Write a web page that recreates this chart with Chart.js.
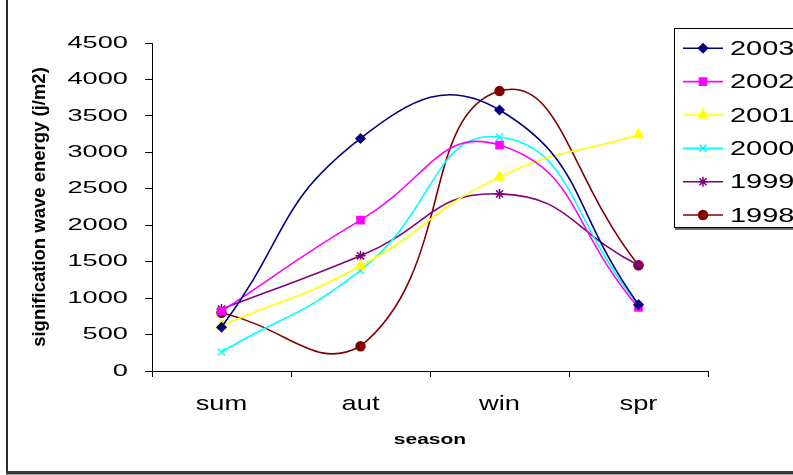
<!DOCTYPE html>
<html>
<head>
<meta charset="utf-8">
<title>Signification wave energy by season</title>
<script src="https://cdn.jsdelivr.net/npm/chart.js@4/dist/chart.umd.min.js"></script>
<style>
  html, body { margin: 0; padding: 0; background: #fff; }
  canvas { display: block; }
</style>
</head>
<body>
<canvas id="chart" width="793" height="475"></canvas>
<script>
// Seasons on the category axis
const seasons = ['sum', 'aut', 'win', 'spr'];

// Value-axis ticks (j/m2)
const yTickValues = [0, 500, 1000, 1500, 2000, 2500, 3000, 3500, 4000, 4500];

// Yearly series, one value per season
const seriesNames = ['2003', '2002', '2001', '2000', '1999', '1998'];
const energy2003 = [600, 3190, 3580, 910];
const energy2002 = [820, 2070, 3100, 870];
const energy2001 = [620, 1440, 2660, 3240];
const energy2000 = [260, 1380, 3210, 910];
const energy1999 = [850, 1580, 2430, 1450];
const energy1998 = [800, 340, 3840, 1450];

const seriesValues = [energy2003, energy2002, energy2001, energy2000, energy1999, energy1998];
const seriesColors = ['#000080', '#FF00FF', '#FFFF00', '#00FFFF', '#800080', '#800000'];
const seriesMarkers = ['rectRot', 'rect', 'triangle', 'crossRot', 'star', 'circle'];
const seriesMarkerSize = [4.5, 5, 5.5, 5, 5, 4.5];

const FONT = '"Liberation Sans", Arial, Helvetica, sans-serif';
Chart.defaults.font.family = FONT;
Chart.defaults.color = '#000';

// Horizontal widening of axis text (labels are drawn wide, like the old office chart look)
const TEXT_WIDEN = {
  x: { ticks: 1.3, title: 1.4 },
  y: { ticks: 1.6, title: 1 }
};

const nativeFillText = CanvasRenderingContext2D.prototype.fillText;
function withWideText(ctx, sx, draw) {
  if (sx === 1) { draw(); return; }
  ctx.fillText = function (text, x, y) {
    this.save();
    this.translate(x, y);
    this.scale(sx, 1);
    nativeFillText.call(this, text, 0, 0);
    this.restore();
  };
  try { draw(); } finally { delete ctx.fillText; }
}

const BaseCategory = Chart.registry.getScale('category');
const BaseLinear = Chart.registry.getScale('linear');

class WideCategoryScale extends BaseCategory {
  drawLabels(area) {
    const w = (TEXT_WIDEN[this.id] || {}).ticks || 1;
    withWideText(this.ctx, w, () => super.drawLabels(area));
  }
  drawTitle() {
    const w = (TEXT_WIDEN[this.id] || {}).title || 1;
    withWideText(this.ctx, w, () => super.drawTitle());
  }
}
WideCategoryScale.id = 'wideCategory';
WideCategoryScale.defaults = BaseCategory.defaults;

class WideLinearScale extends BaseLinear {
  drawLabels(area) {
    const w = (TEXT_WIDEN[this.id] || {}).ticks || 1;
    withWideText(this.ctx, w, () => super.drawLabels(area));
  }
  drawTitle() {
    const w = (TEXT_WIDEN[this.id] || {}).title || 1;
    withWideText(this.ctx, w, () => super.drawTitle());
  }
}
WideLinearScale.id = 'wideLinear';
WideLinearScale.defaults = BaseLinear.defaults;

Chart.register(WideCategoryScale, WideLinearScale);

// Outer frame of the chart object (left edge and bottom edge with a dark rule)
const outerFrame = {
  id: 'outerFrame',
  afterDraw(chart) {
    const ctx = chart.ctx;
    ctx.save();
    ctx.fillStyle = '#2b2b2b';
    ctx.fillRect(6, 0, 2, 472);
    ctx.fillStyle = '#3a3a3a';
    ctx.fillRect(6, 471, chart.width - 6, 3);
    ctx.fillStyle = '#9a9a9a';
    ctx.fillRect(6, 474, chart.width - 6, 1);
    ctx.restore();
  }
};

// Boxed legend at the upper right
const boxLegend = {
  id: 'boxLegend',
  afterDraw(chart) {
    const ctx = chart.ctx;
    ctx.save();
    ctx.fillStyle = '#fff';
    ctx.fillRect(675, 29, 130, 199);
    ctx.strokeStyle = '#000';
    ctx.lineWidth = 1;
    ctx.strokeRect(674.5, 28.5, 140, 199);
    ctx.fillStyle = '#707070';
    ctx.fillRect(675, 228, 130, 2);

    chart.data.datasets.forEach((ds, i) => {
      const y = 48.3 + i * 33.35;
      ctx.strokeStyle = ds.borderColor;
      ctx.lineWidth = ds.borderWidth;
      ctx.beginPath();
      ctx.moveTo(683, y);
      ctx.lineTo(723, y);
      ctx.stroke();

      ctx.fillStyle = ds.pointBackgroundColor;
      ctx.strokeStyle = ds.pointBorderColor;
      ctx.lineWidth = ds.pointBorderWidth;
      Chart.helpers.drawPoint(ctx, {
        pointStyle: ds.pointStyle,
        radius: ds.pointRadius,
        rotation: 0,
        borderWidth: ds.pointBorderWidth
      }, 703, y);

      ctx.fillStyle = '#000';
      ctx.font = '21px ' + FONT;
      ctx.textAlign = 'left';
      ctx.textBaseline = 'middle';
      ctx.save();
      ctx.translate(730, y + 1);
      ctx.scale(1.38, 1);
      nativeFillText.call(ctx, ds.label, 0, 0);
      ctx.restore();
    });
    ctx.restore();
  }
};

const datasets = seriesNames.map((name, i) => ({
  label: name,
  data: seriesValues[i],
  borderColor: seriesColors[i],
  backgroundColor: seriesColors[i],
  borderWidth: 1.6,
  tension: 0.5,
  fill: false,
  pointStyle: seriesMarkers[i],
  pointRadius: seriesMarkerSize[i],
  pointHoverRadius: seriesMarkerSize[i],
  pointBackgroundColor: seriesColors[i],
  pointBorderColor: seriesColors[i],
  pointBorderWidth: 1.5
}));

new Chart(document.getElementById('chart'), {
  type: 'line',
  data: { labels: seasons, datasets },
  options: {
    responsive: false,
    animation: false,
    devicePixelRatio: 1,
    layout: { padding: { top: 43, right: 85, bottom: 0, left: 0 } },
    plugins: {
      legend: { display: false },
      tooltip: { enabled: false }
    },
    scales: {
      x: {
        type: 'wideCategory',
        offset: true,
        grid: {
          offset: true,
          drawOnChartArea: false,
          drawTicks: true,
          tickLength: 6,
          color: '#000',
          lineWidth: 1
        },
        border: { display: true, color: '#000', width: 1 },
        ticks: {
          font: { size: 21 },
          color: '#000',
          padding: 15,
          maxRotation: 0,
          autoSkip: false
        },
        title: {
          display: true,
          text: 'season',
          font: { size: 15, weight: 'bold' },
          color: '#000',
          padding: { top: 0, bottom: 26 }
        },
        afterFit(scale) { scale.height = 104; }
      },
      y: {
        type: 'wideLinear',
        min: 0,
        max: 4500,
        afterBuildTicks(scale) {
          scale.ticks = yTickValues.map(v => ({ value: v }));
        },
        grid: {
          drawOnChartArea: false,
          drawTicks: true,
          tickLength: 7,
          color: '#000',
          lineWidth: 1
        },
        border: { display: true, color: '#000', width: 1 },
        ticks: {
          font: { size: 17 },
          color: '#000',
          padding: 17,
          callback: v => String(v)
        },
        title: {
          display: true,
          text: 'signification wave energy (j/m2)',
          font: { size: 18.5, weight: 'bold' },
          color: '#000',
          padding: { top: 29, bottom: 0 }
        },
        afterFit(scale) { scale.width = 152; }
      }
    }
  },
  plugins: [outerFrame, boxLegend]
});
</script>
</body>
</html>
